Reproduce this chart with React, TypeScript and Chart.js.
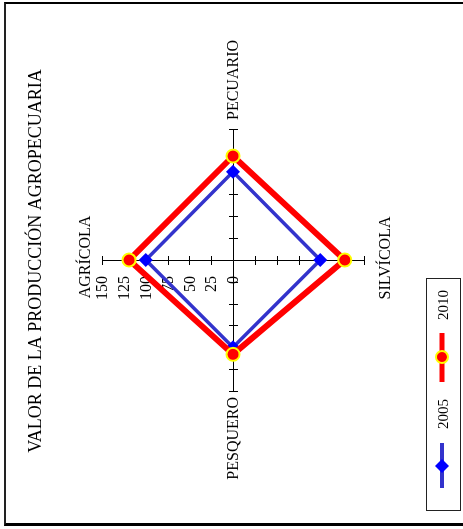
import React, { useEffect, useRef } from 'react';
import { Chart, registerables } from 'chart.js';

Chart.register(...registerables);

// ---- data ----
const chartTitle = 'VALOR DE LA PRODUCCIÓN AGROPECUARIA';
const categories = ['AGRÍCOLA', 'PECUARIO', 'SILVÍCOLA', 'PESQUERO'];
const seriesNames = ['2005', '2010'];
const values2005 = [100, 101, 100, 100];
const values2010 = [119, 119, 128, 108];
const tickValues = [0, 25, 50, 75, 100, 125, 150];

// ---- styles ----
const W = 529; // unrotated width  (page height)
const H = 463; // unrotated height (page width)
const SERIF = '"Liberation Serif", "Times New Roman", serif';
const BLUE_LINE = '#3333CC';
const BLUE_MARK = '#0000FF';
const RED = '#FF0000';
const YELLOW = '#FFFF00';

const decor = {
  id: 'decor',
  beforeDatasetsDraw(chart: any) {
    const r = chart.scales.r;
    const ctx = chart.ctx as CanvasRenderingContext2D;
    ctx.save();
    // axes with tick marks (pixel-snapped)
    const cx = r.xCenter - 0.5;
    const cy = r.yCenter + 0.5;
    ctx.strokeStyle = '#000';
    ctx.lineWidth = 1;
    for (let i = 0; i < categories.length; i++) {
      const e = r.getPointPosition(i, r.drawingArea);
      const vertical = Math.abs(e.x - r.xCenter) < Math.abs(e.y - r.yCenter);
      ctx.beginPath();
      if (vertical) {
        ctx.moveTo(cx, cy);
        ctx.lineTo(cx, Math.round(e.y) + 0.5);
      } else {
        ctx.moveTo(cx, cy);
        ctx.lineTo(Math.round(e.x) - 0.5, cy);
      }
      ctx.stroke();
      for (const t of tickValues) {
        if (t === 0) continue;
        const p = r.getPointPosition(i, r.getDistanceFromCenterForValue(t));
        ctx.beginPath();
        if (vertical) {
          const y = Math.round(p.y) + 0.5;
          ctx.moveTo(cx - 4.5, y);
          ctx.lineTo(cx + 4.5, y);
        } else {
          const x = Math.round(p.x) - 0.5;
          ctx.moveTo(x, cy - 4.5);
          ctx.lineTo(x, cy + 4.5);
        }
        ctx.stroke();
      }
    }
    // tick labels on the first axis
    ctx.fillStyle = '#000';
    ctx.font = `16px ${SERIF}`;
    ctx.textAlign = 'right';
    ctx.textBaseline = 'middle';
    for (const t of tickValues) {
      const p = r.getPointPosition(0, r.getDistanceFromCenterForValue(t));
      ctx.fillText(String(t), p.x - 16, p.y + 1);
    }
    // point labels
    const end = r.drawingArea;
    ctx.font = `16px ${SERIF}`;
    let p = r.getPointPosition(0, end);
    ctx.textAlign = 'center';
    ctx.textBaseline = 'alphabetic';
    ctx.fillText(categories[0], p.x + 3, p.y - 12);
    p = r.getPointPosition(1, end);
    ctx.textAlign = 'left';
    ctx.textBaseline = 'middle';
    ctx.fillText(categories[1], p.x + 9, p.y + 1);
    p = r.getPointPosition(2, end);
    ctx.textAlign = 'center';
    ctx.textBaseline = 'alphabetic';
    ctx.fillText(categories[2], p.x + 2, p.y + 26);
    p = r.getPointPosition(3, end);
    ctx.textAlign = 'right';
    ctx.textBaseline = 'middle';
    ctx.fillText(categories[3], p.x - 6, p.y + 1);
    // title
    ctx.font = `18px ${SERIF}`;
    ctx.textAlign = 'center';
    ctx.textBaseline = 'alphabetic';
    ctx.fillText(chartTitle, r.xCenter - 1, 41);
    ctx.restore();
  },
  afterDraw(chart: any) {
    const ctx = chart.ctx as CanvasRenderingContext2D;
    const ds = chart.data.datasets;
    ctx.save();
    // legend box
    ctx.strokeStyle = '#222';
    ctx.lineWidth = 1;
    ctx.strokeRect(18.5, 426.5, 232, 34);
    const y = 442;
    // 2005
    ctx.strokeStyle = ds[0].borderColor;
    ctx.lineWidth = 4;
    ctx.beginPath();
    ctx.moveTo(41, y);
    ctx.lineTo(86, y);
    ctx.stroke();
    ctx.fillStyle = ds[0].pointBackgroundColor;
    ctx.beginPath();
    ctx.moveTo(63 - 7, y);
    ctx.lineTo(63, y - 7);
    ctx.lineTo(63 + 7, y);
    ctx.lineTo(63, y + 7);
    ctx.closePath();
    ctx.fill();
    // 2010
    ctx.strokeStyle = ds[1].borderColor;
    ctx.lineWidth = 5;
    ctx.beginPath();
    ctx.moveTo(147, y);
    ctx.lineTo(196, y);
    ctx.stroke();
    ctx.fillStyle = ds[1].pointBackgroundColor;
    ctx.strokeStyle = ds[1].pointBorderColor;
    ctx.lineWidth = 2;
    ctx.beginPath();
    ctx.arc(172, y, 6, 0, Math.PI * 2);
    ctx.fill();
    ctx.stroke();
    // texts
    ctx.fillStyle = '#000';
    ctx.font = `15px ${SERIF}`;
    ctx.textAlign = 'left';
    ctx.textBaseline = 'alphabetic';
    ctx.fillText(seriesNames[0], 100, 448);
    ctx.fillText(seriesNames[1], 209, 448);
    ctx.restore();
  },
};

export default function App() {
  const ref = useRef<HTMLCanvasElement | null>(null);
  useEffect(() => {
    if (!ref.current) return;
    const chart = new Chart(ref.current, {
      type: 'radar',
      data: {
        labels: categories,
        datasets: [
          {
            label: seriesNames[0],
            data: values2005,
            borderColor: BLUE_LINE,
            borderWidth: 3.5,
            backgroundColor: 'transparent',
            fill: false,
            pointStyle: 'rectRot',
            pointRadius: 7,
            pointBackgroundColor: BLUE_MARK,
            pointBorderColor: BLUE_MARK,
            pointBorderWidth: 0,
            order: 1,
          },
          {
            label: seriesNames[1],
            data: values2010,
            borderColor: RED,
            borderWidth: 6,
            backgroundColor: 'transparent',
            fill: false,
            pointStyle: 'circle',
            pointRadius: 6.5,
            pointBackgroundColor: RED,
            pointBorderColor: YELLOW,
            pointBorderWidth: 2,
            order: 0,
          },
        ],
      },
      options: {
        responsive: false,
        animation: false,
        layout: { padding: { left: 138, right: 129, top: 102, bottom: 99 } },
        plugins: {
          legend: { display: false },
          title: { display: false },
          tooltip: { enabled: false },
        },
        elements: { line: { tension: 0 } },
        scales: {
          r: {
            min: 0,
            max: 150,
            ticks: { display: false, stepSize: 25 },
            grid: { display: false },
            angleLines: { display: false },
            pointLabels: { display: false },
          },
        },
      },
      plugins: [decor],
    } as any);
    return () => chart.destroy();
  }, []);

  return (
    <div
      style={{
        position: 'absolute',
        left: 0,
        top: 0,
        width: H,
        height: W,
        overflow: 'hidden',
        background: '#fff',
      }}
    >
      <div
        style={{
          position: 'absolute',
          left: 0,
          top: 0,
          width: W,
          height: H,
          transformOrigin: '0 0',
          transform: `translate(0px, ${W}px) rotate(-90deg)`,
        }}
      >
        <canvas ref={ref} width={W} height={H} style={{ display: 'block' }} />
      </div>
      <div
        style={{
          position: 'absolute',
          left: 4,
          top: 2,
          width: 520,
          height: 524,
          boxSizing: 'border-box',
          borderTop: '2px solid #000',
          borderLeft: '2px solid #222',
          borderBottom: '3px solid #000',
        }}
      />
    </div>
  );
}
